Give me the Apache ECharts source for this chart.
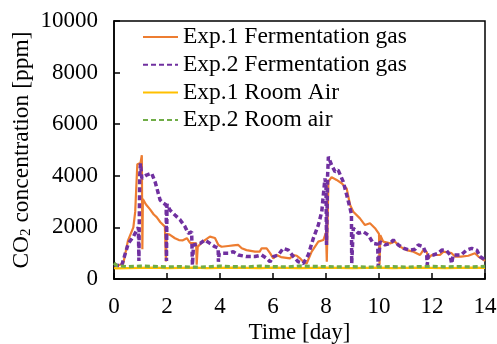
<!DOCTYPE html>
<html>
<head>
<meta charset="utf-8">
<script src="https://cdn.jsdelivr.net/npm/echarts@6/dist/echarts.min.js"></script>
<style>
  html, body { margin: 0; padding: 0; background: #fff; }
  #chart { width: 497px; height: 344px; }
</style>
</head>
<body>
<div id="chart"></div>
<script>
// CO2 concentration logged over two fermentation experiments (day, ppm)
const exp1GasDays = [0.00,0.15,0.35,0.45,0.53,0.65,0.73,0.80,0.88,0.95,1.00,1.05,1.07,1.09,1.20,1.36,1.50,1.61,1.75,1.92,1.96,1.99,2.10,2.30,2.45,2.60,2.75,2.87,3.10,3.12,3.16,3.30,3.43,3.62,3.81,3.94,4.06,4.31,4.50,4.69,4.82,5.00,5.32,5.50,5.57,5.76,5.89,6.01,6.14,6.30,6.64,6.77,6.90,7.02,7.14,7.27,7.46,7.71,7.90,8.00,8.03,8.09,8.21,8.40,8.59,8.78,8.91,9.03,9.28,9.47,9.66,9.85,10.00,10.02,10.05,10.16,10.42,10.60,10.80,11.04,11.30,11.55,11.67,11.80,11.86,11.99,12.30,12.43,12.74,12.87,13.10,13.37,13.62,13.75,13.94,14.00];
const exp1GasPpm  = [540,520,600,1100,1500,1800,2000,2600,4450,4400,4500,4800,1150,3100,2900,2700,2500,2400,2200,2030,680,1750,1720,1580,1510,1500,1580,1400,1380,550,1250,1400,1510,1640,1590,1320,1250,1280,1300,1320,1190,1120,1060,1060,1190,1190,1000,800,930,850,800,930,900,800,670,600,1060,1450,1510,1800,670,3770,3950,3840,3710,3510,2870,2610,2350,2090,2160,1970,1750,550,1700,1450,1380,1450,1250,1120,1060,930,1120,1050,800,930,930,1060,1000,870,870,900,1000,870,740,700];

const exp2GasDays = [0.00,0.29,0.40,0.54,0.73,0.86,0.92,0.94,0.97,1.00,1.05,1.23,1.42,1.55,1.74,1.85,1.97,1.98,2.00,2.11,2.30,2.49,2.68,2.80,2.93,2.96,3.00,3.25,3.43,3.62,3.81,3.93,3.94,3.97,4.06,4.31,4.50,4.69,5.00,5.32,5.57,5.76,5.89,6.01,6.20,6.39,6.58,6.77,6.95,7.14,7.20,7.33,7.52,7.71,7.84,7.90,7.96,8.00,8.02,8.06,8.09,8.21,8.34,8.46,8.65,8.78,8.91,8.96,8.97,9.03,9.22,9.41,9.60,9.78,9.95,9.97,10.04,10.23,10.42,10.54,10.73,10.92,11.17,11.36,11.48,11.67,11.80,11.82,11.86,12.05,12.24,12.37,12.55,12.68,12.72,12.74,12.80,13.10,13.30,13.50,13.69,13.81,14.00];
const exp2GasPpm  = [540,520,900,1380,1640,1900,2000,700,4000,4480,3900,4030,4100,3770,3060,2950,2870,700,2900,2670,2480,2300,2030,1770,1830,540,1320,1380,1510,1380,1250,1200,670,1000,1000,1000,1060,930,870,870,930,800,670,870,930,1190,1120,870,670,600,600,930,1570,2090,2610,3260,3900,3600,1320,4000,4740,4420,4160,4220,3770,3260,2740,2500,600,1970,1770,1830,1700,1380,1350,480,1450,1320,1380,1510,1320,1190,1120,1150,1320,1250,930,540,930,930,1000,1120,1100,930,900,600,930,930,1120,1190,1120,870,740];

const roomDays    = [0.0,0.1,0.5,1.0,1.5,2.0,2.5,3.0,3.5,4.0,4.5,5.0,5.5,6.0,6.5,7.0,7.5,8.0,8.5,9.0,9.5,10.0,10.5,11.0,11.5,12.0,12.5,13.0,13.5,14.0];
const exp1RoomPpm = [420,410,420,430,440,420,430,440,420,430,440,430,420,440,430,420,430,440,430,420,430,440,420,430,440,430,420,430,440,430];
const exp2RoomPpm = [620,520,480,500,490,470,480,460,470,500,480,470,500,480,470,500,490,480,470,480,460,470,480,460,480,490,470,480,470,490];

const xTicks = { min: 0, max: 14, interval: 2 };
const yTicks = { min: 0, max: 10000, interval: 2000 };

const seriesNames = ['Exp.1 Fermentation gas', 'Exp.2 Fermentation gas', 'Exp.1 Room Air', 'Exp.2 Room air'];

const zip = (xs, ys) => xs.map((x, i) => [x, ys[i]]);
const FONT = 'Liberation Serif';

const chart = echarts.init(document.getElementById('chart'), null, { renderer: 'canvas' });

chart.setOption({
  animation: false,
  backgroundColor: '#fff',
  grid: {
    left: 114, right: 12, top: 21, bottom: 65,
    outerBoundsMode: 'none',
    containLabel: false,
    show: true, borderColor: '#000', borderWidth: 1.5, backgroundColor: 'transparent'
  },
  legend: {
    orient: 'vertical',
    left: 142, top: 25,
    padding: 0,
    itemWidth: 35, itemHeight: 12, itemGap: 3.7,
    itemStyle: { opacity: 0 },
    textStyle: { fontFamily: FONT, fontSize: 23.5, color: '#000', lineHeight: 23 },
    data: seriesNames
  },
  xAxis: {
    type: 'value',
    min: xTicks.min, max: xTicks.max, interval: xTicks.interval,
    name: 'Time [day]',
    nameLocation: 'middle', nameGap: 42, nameMoveOverlap: false,
    nameTextStyle: { fontFamily: FONT, fontSize: 23, color: '#000' },
    axisLine: { lineStyle: { color: '#000', width: 1.5 } },
    axisTick: { inside: true, length: 6, lineStyle: { color: '#000', width: 1.5 } },
    axisLabel: { fontFamily: FONT, fontSize: 23, color: '#000', margin: 16 },
    splitLine: { show: false }
  },
  yAxis: {
    type: 'value',
    min: yTicks.min, max: yTicks.max, interval: yTicks.interval,
    name: '{n|CO}{s|2}{n| concentration [ppm]}',
    nameLocation: 'middle', nameGap: 80, nameRotate: 90, nameMoveOverlap: false,
    nameTextStyle: {
      fontFamily: FONT, fontSize: 23.5, color: '#000',
      rich: {
        n: { fontFamily: FONT, fontSize: 23.5, color: '#000' },
        s: { fontFamily: FONT, fontSize: 15, color: '#000', verticalAlign: 'bottom', padding: [9, 0, 0, 0] }
      }
    },
    axisLine: { show: true, lineStyle: { color: '#000', width: 1.5 } },
    axisTick: { show: true, inside: true, length: 6, lineStyle: { color: '#000', width: 1.5 } },
    axisLabel: { fontFamily: FONT, fontSize: 23, color: '#000', margin: 16, formatter: v => String(v) },
    splitLine: { show: false }
  },
  series: [
    {
      name: seriesNames[0], type: 'line', data: zip(exp1GasDays, exp1GasPpm),
      symbol: 'none', lineStyle: { color: '#ED7D31', width: 2.2 }, itemStyle: { color: '#ED7D31' }, z: 3
    },
    {
      name: seriesNames[1], type: 'line', data: zip(exp2GasDays, exp2GasPpm),
      symbol: 'none', lineStyle: { color: '#7030A0', width: 3.5, type: [5, 3] }, itemStyle: { color: '#7030A0' }, z: 4
    },
    {
      name: seriesNames[2], type: 'line', data: zip(roomDays, exp1RoomPpm),
      symbol: 'none', lineStyle: { color: '#FFC000', width: 2.2 }, itemStyle: { color: '#FFC000' }, z: 2
    },
    {
      name: seriesNames[3], type: 'line', data: zip(roomDays, exp2RoomPpm),
      symbol: 'none', lineStyle: { color: '#70AD47', width: 3.2, type: [5, 3] }, itemStyle: { color: '#70AD47' }, z: 5
    }
  ]
});
</script>
</body>
</html>
